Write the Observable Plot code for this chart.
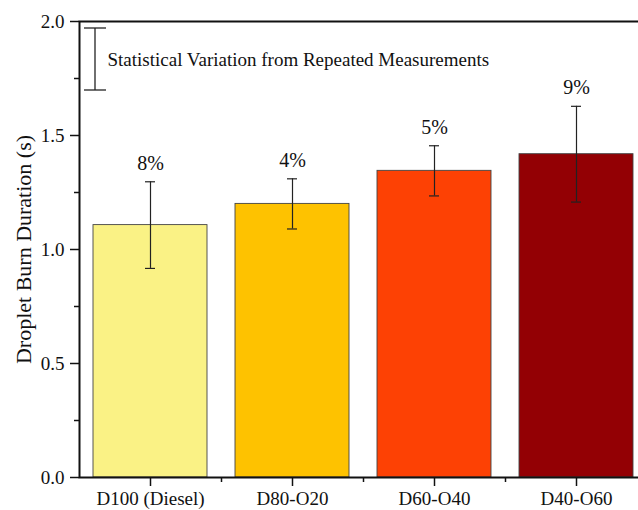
<!DOCTYPE html>
<html>
<head>
<meta charset="utf-8">
<script src="https://cdn.jsdelivr.net/npm/d3@7"></script>
<script src="https://cdn.jsdelivr.net/npm/@observablehq/plot@0.6"></script>
<style>
  html, body { margin: 0; padding: 0; background: #fff; }
  #chart { width: 638px; height: 510px; }
</style>
</head>
<body>
<div id="chart"></div>
<script>
const categories = ["D100 (Diesel)", "D80-O20", "D60-O40", "D40-O60"];
const durations = [1.107, 1.200, 1.345, 1.418];
const errors = [0.19, 0.11, 0.11, 0.21];
const percentLabels = ["8%", "4%", "5%", "9%"];
const barColors = ["#FAF285", "#FEC200", "#FD4104", "#930004"];
const yTicks = [0, 0.5, 1.0, 1.5, 2.0];
const yMinorTicks = [0.25, 0.75, 1.25, 1.75];
const legendText = "Statistical Variation from Repeated Measurements";
const yLabel = "Droplet Burn Duration (s)";

const data = categories.map((c, i) => ({
  cat: c, val: durations[i], err: errors[i], lo: durations[i] - errors[i], hi: durations[i] + errors[i], pct: percentLabels[i], color: barColors[i]
}));

const font = "'Liberation Serif', 'Times New Roman', serif";

const plot = Plot.plot({
  width: 638,
  height: 510,
  marginLeft: 79,
  marginTop: 21,
  marginBottom: 33,
  marginRight: -9,
  style: { fontFamily: font, fontSize: "19px", color: "#111", background: "#fff" },
  x: { domain: categories, paddingInner: 0.2, paddingOuter: 0.1, label: null },
  y: { domain: [0, 2], label: null },
  marks: [
    Plot.barY(data, { x: "cat", y: "val", fill: "color", stroke: "#444", strokeWidth: 0.9 }),
    Plot.ruleX(data, { x: "cat", y1: "lo", y2: "hi", stroke: "#222", strokeWidth: 1.2 }),
    Plot.tickY(data, { x: "cat", y: "lo", stroke: "#222", strokeWidth: 1.2, insetLeft: 52, insetRight: 52 }),
    Plot.tickY(data, { x: "cat", y: "hi", stroke: "#222", strokeWidth: 1.2, insetLeft: 52, insetRight: 52 }),
    Plot.text(data, { x: "cat", y: "hi", text: "pct", dy: -12, lineAnchor: "bottom", fontSize: 20, fill: "#111" }),
    Plot.axisY({ ticks: yTicks, tickFormat: d3.format(".1f"), tickSize: 9, tickPadding: 6, strokeWidth: 1.5, stroke: "#111", strokeOpacity: 1, fill: "#111", fontSize: 19, label: null }),
    Plot.axisY({ ticks: yMinorTicks, tickSize: 5, strokeWidth: 1.5, stroke: "#111", strokeOpacity: 1, text: null, label: null }),
    Plot.axisX({ tickSize: 9, tickPadding: 5, strokeWidth: 1.5, stroke: "#111", strokeOpacity: 1, fill: "#111", fontSize: 19, label: null }),
    Plot.axisX({ ticks: categories.slice(0, 3), dx: 71, tickSize: 5, strokeWidth: 1.5, stroke: "#111", strokeOpacity: 1, text: null, label: null }),
    Plot.frame({ stroke: "#111", strokeWidth: 2 }),
    Plot.text([yLabel], { frameAnchor: "left", dx: -56, rotate: -90, textAnchor: "middle", fontSize: 22, fill: "#111", text: d => d }),
    Plot.text([legendText], { frameAnchor: "top-left", dx: 28, dy: 38, textAnchor: "start", lineAnchor: "middle", fontSize: 19, fill: "#111", text: d => d })
  ]
});

// legend error-bar glyph
const svg = d3.select(plot);
const gx = 79 + 16, gy1 = 21 + 7, gy2 = 21 + 69;
const g = svg.append("g").attr("stroke", "#222").attr("stroke-width", 1.3);
g.append("line").attr("x1", gx).attr("x2", gx).attr("y1", gy1).attr("y2", gy2);
g.append("line").attr("x1", gx - 11).attr("x2", gx + 11).attr("y1", gy1).attr("y2", gy1);
g.append("line").attr("x1", gx - 11).attr("x2", gx + 11).attr("y1", gy2).attr("y2", gy2);

document.getElementById("chart").appendChild(plot);
</script>
</body>
</html>
